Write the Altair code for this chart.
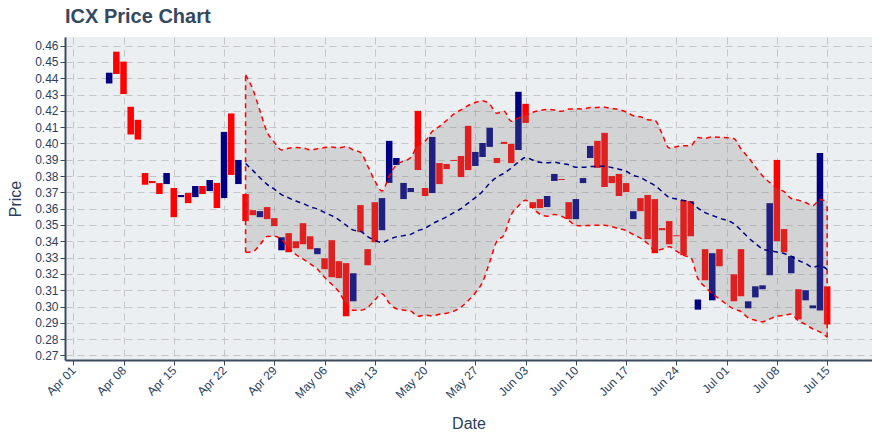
import altair as alt
import pandas as pd

# ---- data ----
dates = [
    "2019-04-06", "2019-04-07", "2019-04-08", "2019-04-09", "2019-04-10", "2019-04-11",
    "2019-04-12", "2019-04-13", "2019-04-14", "2019-04-15", "2019-04-16", "2019-04-17",
    "2019-04-18", "2019-04-19", "2019-04-20", "2019-04-21", "2019-04-22", "2019-04-23",
    "2019-04-24", "2019-04-25", "2019-04-26", "2019-04-27", "2019-04-28", "2019-04-29",
    "2019-04-30", "2019-05-01", "2019-05-02", "2019-05-03", "2019-05-04", "2019-05-05",
    "2019-05-06", "2019-05-07", "2019-05-08", "2019-05-09", "2019-05-10", "2019-05-11",
    "2019-05-12", "2019-05-13", "2019-05-14", "2019-05-15", "2019-05-16", "2019-05-17",
    "2019-05-18", "2019-05-19", "2019-05-20", "2019-05-21", "2019-05-22", "2019-05-23",
    "2019-05-24", "2019-05-25", "2019-05-26", "2019-05-27", "2019-05-28", "2019-05-29",
    "2019-05-30", "2019-05-31", "2019-06-01", "2019-06-02", "2019-06-03", "2019-06-04",
    "2019-06-05", "2019-06-06", "2019-06-07", "2019-06-08", "2019-06-09", "2019-06-10",
    "2019-06-11", "2019-06-12", "2019-06-13", "2019-06-14", "2019-06-15", "2019-06-16",
    "2019-06-17", "2019-06-18", "2019-06-19", "2019-06-20", "2019-06-21", "2019-06-22",
    "2019-06-23", "2019-06-24", "2019-06-25", "2019-06-26", "2019-06-27", "2019-06-28",
    "2019-06-29", "2019-06-30", "2019-07-02", "2019-07-03", "2019-07-04", "2019-07-05",
    "2019-07-06", "2019-07-07", "2019-07-08", "2019-07-09", "2019-07-10", "2019-07-11",
    "2019-07-12", "2019-07-13", "2019-07-14", "2019-07-15",
]
opens = [
    0.4368, 0.4563, 0.4502, 0.4225, 0.4145, 0.3819,
    0.3770, 0.3757, 0.3751, 0.3727, 0.3671, 0.3696,
    0.3671, 0.3739, 0.3708, 0.3758, 0.3665, 0.4184,
    0.3751, 0.3690, 0.3591, 0.3548, 0.3610, 0.3542,
    0.3345, 0.3450, 0.3400, 0.3511, 0.3431, 0.3321,
    0.3296, 0.3407, 0.3278, 0.3266, 0.3032, 0.3622,
    0.3352, 0.3640, 0.3468, 0.3758, 0.3868, 0.3659,
    0.3702, 0.4200, 0.3727, 0.3696, 0.3880, 0.3874,
    0.3899, 0.3923, 0.4108, 0.3862, 0.3917, 0.3979,
    0.3911, 0.4010, 0.3997, 0.3960, 0.4243, 0.3640,
    0.3659, 0.3610, 0.3770, 0.3782, 0.3640, 0.3536,
    0.3757, 0.3911, 0.4016, 0.4065, 0.3800, 0.3813,
    0.3757, 0.3536, 0.3665, 0.3684, 0.3659, 0.3481,
    0.3524, 0.3437, 0.3653, 0.3647, 0.2981, 0.3352,
    0.3038, 0.3352, 0.3198, 0.3352, 0.2989, 0.3056,
    0.3106, 0.3192, 0.3899, 0.3475, 0.3204, 0.3106,
    0.3038, 0.2989, 0.2976, 0.3124,
]
closes = [
    0.4434, 0.4426, 0.4303, 0.4055, 0.4024, 0.3747,
    0.3757, 0.3690, 0.3819, 0.3548, 0.3684, 0.3634,
    0.3739, 0.3690, 0.3776, 0.3604, 0.4071, 0.3807,
    0.3899, 0.3524, 0.3560, 0.3585, 0.3536, 0.3493,
    0.3425, 0.3333, 0.3358, 0.3382, 0.3351, 0.3358,
    0.3229, 0.3180, 0.3174, 0.2940, 0.3204, 0.3456,
    0.3253, 0.3394, 0.3665, 0.4016, 0.3911, 0.3758,
    0.3727, 0.3837, 0.3678, 0.4040, 0.3751, 0.3843,
    0.3893, 0.3794, 0.3837, 0.3948, 0.4003, 0.4096,
    0.3880, 0.3997, 0.3880, 0.4317, 0.4126, 0.3604,
    0.3604, 0.3678, 0.3813, 0.3776, 0.3536, 0.3659,
    0.3788, 0.3985, 0.3850, 0.3733, 0.3757, 0.3678,
    0.3702, 0.3585, 0.3585, 0.3413, 0.3327, 0.3468,
    0.3382, 0.3431, 0.3315, 0.3431, 0.3043, 0.3161,
    0.3327, 0.3247, 0.3032, 0.3063, 0.3032, 0.3124,
    0.3130, 0.3634, 0.3401, 0.3333, 0.3309, 0.2921,
    0.3100, 0.3007, 0.3942, 0.2890,
]
week_ticks = [
    "2019-04-01", "2019-04-08", "2019-04-15", "2019-04-22", "2019-04-29",
    "2019-05-06", "2019-05-13", "2019-05-20", "2019-05-27", "2019-06-03",
    "2019-06-10", "2019-06-17", "2019-06-24", "2019-07-01", "2019-07-08",
    "2019-07-15",
]
price_ticks = [round(0.27 + 0.01 * i, 2) for i in range(20)]

df = pd.DataFrame({"date": dates, "open": opens, "close": closes})
df["direction"] = ["up" if c >= o else "down" for o, c in zip(opens, closes)]


def ms(s):
    return int(pd.Timestamp(s, tz="UTC").value // 10**6)


TXT = "#2a3f5f"
FONT = "Liberation Sans"

x_scale = alt.Scale(type="utc", domain=[ms("2019-03-31T13:06"), ms("2019-07-20T13:12")])
y_scale = alt.Scale(domain=[0.2672, 0.4653], nice=False, zero=False)

x_enc = alt.X(
    "date:T",
    scale=x_scale,
    axis=alt.Axis(
        title="Date",
        values=[ms(d) for d in week_ticks],
        tickCount=40,
        format="%b %d",
        labelAngle=-45,
        labelAlign="right",
        labelBaseline="middle",
        labelPadding=3,
        tickSize=5,
        titlePadding=15,
        labelFlush=False,
        labelOverlap=False,
    ),
)
y_axis = alt.Axis(
    title="Price",
    values=price_ticks,
    tickCount=40,
    format=".2f",
    tickSize=5,
    labelPadding=2,
    titlePadding=11,
    labelFlush=False,
    labelOverlap=False,
)

candles = alt.Chart(df).mark_bar(size=6.5).encode(
    x=x_enc,
    y=alt.Y("open:Q", scale=y_scale, axis=y_axis),
    y2="close:Q",
    color=alt.Color(
        "direction:N",
        scale=alt.Scale(domain=["up", "down"], range=["#000080", "#ff0000"]),
        legend=None,
    ),
)

# 20-period Bollinger bands (2 sd) of the typical price
bands = (
    alt.Chart(df)
    .transform_calculate(tp="(datum.open + 2 * datum.close) / 3")
    .transform_window(
        window=[
            {"op": "mean", "field": "tp", "as": "sma"},
            {"op": "stdev", "field": "tp", "as": "sd"},
            {"op": "count", "as": "n"},
        ],
        frame=[-19, 0],
        sort=[{"field": "date"}],
    )
    .transform_filter("datum.n == 20")
    .transform_calculate(
        upper="datum.sma + 2 * datum.sd",
        lower="datum.sma - 2 * datum.sd",
        t="time(datum.date)",
    )
)

dash = [5, 4]
fill = bands.mark_area(color="#808080", opacity=0.25, interpolate="monotone").encode(
    x=x_enc, y=alt.Y("lower:Q", scale=y_scale), y2="upper:Q"
)
upper = bands.mark_line(
    color="#ff0000", strokeDash=dash, strokeWidth=1.5, interpolate="monotone"
).encode(x=x_enc, y=alt.Y("upper:Q", scale=y_scale))
lower = bands.mark_line(
    color="#ff0000", strokeDash=dash, strokeWidth=1.5, interpolate="monotone"
).encode(x=x_enc, y=alt.Y("lower:Q", scale=y_scale))
ends = (
    bands.transform_joinaggregate(tmin="min(t)", tmax="max(t)")
    .transform_filter("datum.t == datum.tmin || datum.t == datum.tmax")
    .mark_rule(color="#ff0000", strokeDash=dash, strokeWidth=1.5)
    .encode(x=x_enc, y=alt.Y("lower:Q", scale=y_scale), y2="upper:Q")
)
middle = bands.mark_line(
    color="#000080", strokeDash=dash, strokeWidth=1.5, interpolate="monotone"
).encode(x=x_enc, y=alt.Y("sma:Q", scale=y_scale))

chart = (
    alt.layer(candles, fill, upper, lower, ends, middle)
    .properties(
        width=807,
        height=323,
        autosize=alt.AutoSizeParams(type="none"),
        padding={"left": 57, "top": 29, "right": 0, "bottom": 72},
        title=alt.TitleParams(
            "ICX Price Chart",
            anchor="start",
            frame="group",
            fontSize=20,
            fontWeight="bold",
            font=FONT,
            color="#34495e",
            baseline="alphabetic",
            offset=13,
            dy=19,
        ),
    )
    .configure_view(fill="#eceff1", stroke=None)
    .configure_axis(
        labelFont=FONT,
        titleFont=FONT,
        labelFontSize=12,
        titleFontSize=16,
        titleFontWeight="normal",
        labelColor=TXT,
        titleColor=TXT,
        domainColor="#3b4a5c",
        domainWidth=2,
        tickColor="#3b4a5c",
        gridColor="#c4c6c8",
        gridDash=[7, 5],
        gridWidth=1,
    )
)

chart.save("out.html", embed_options={"renderer": "svg", "actions": False})
